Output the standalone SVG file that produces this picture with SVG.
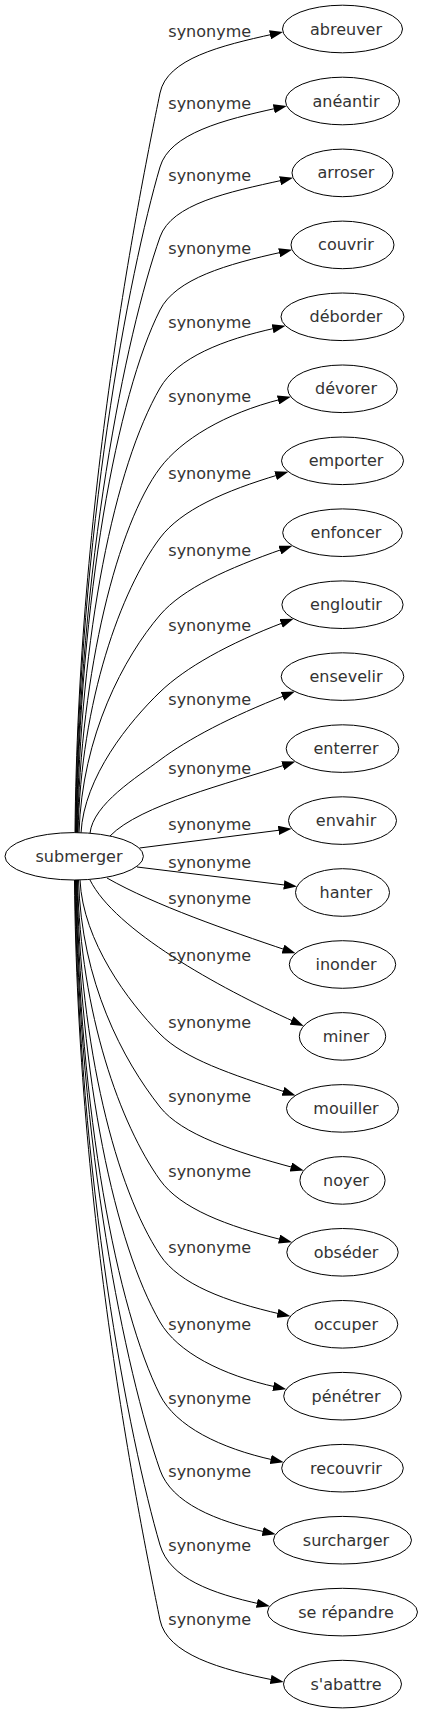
<svg xmlns="http://www.w3.org/2000/svg" width="423" height="1715" viewBox="0 0 423 1715">
<defs>
<style>
.n ellipse{fill:#fff;stroke:#000;stroke-width:1}
text{font-family:"DejaVu Sans","Liberation Sans",sans-serif;font-size:16px;fill:#333;text-anchor:middle}
.e path{fill:none;stroke:#000;stroke-width:1;marker-end:url(#ah)}
</style>
<marker id="ah" viewBox="0 0 13.3 9.3" refX="3.3" refY="4.65" markerWidth="13.3" markerHeight="9.3" markerUnits="userSpaceOnUse" orient="auto"><path d="M0,0L13.3,4.65L0,9.3z" fill="#000"/></marker>
</defs>
<rect width="423" height="1715" fill="#fff"/>
<g id="edges" class="e">
<g id="e0"><path d="M75,833 C78,500 138,200.8 160,93 C167,58.7 220.9,45.6 273.2,34.1"/><text x="209.7" y="36.8">synonyme</text></g>
<g id="e1"><path d="M75.5,833 C78.5,533.3 129.2,272.6 160,167 C169.8,133.4 223.3,119.9 277,108.1"/><text x="209.7" y="108.5">synonyme</text></g>
<g id="e2"><path d="M76,833 C79,564.8 125.3,336.1 160,237 C171.6,204 227.6,192.2 283.3,180"/><text x="209.7" y="181.2">synonyme</text></g>
<g id="e3"><path d="M76.5,833 C79.5,597.6 117.3,394.8 160,310 C175.8,278.7 226.8,264.2 282.4,252"/><text x="209.7" y="253.8">synonyme</text></g>
<g id="e4"><path d="M77,833 C80,632.7 115,465.9 160,388 C177.5,357.7 222.3,339.8 275.8,328"/><text x="209.7" y="327.8">synonyme</text></g>
<g id="e5"><path d="M77.5,833 C80.5,669 118,524 160,468 C181,440 224.4,413.4 281.2,399.2"/><text x="209.7" y="401.8">synonyme</text></g>
<g id="e6"><path d="M78,833 C81,700.3 121,590 160,538 C181,510 224.7,490.9 278.8,474.7"/><text x="209.7" y="478.8">synonyme</text></g>
<g id="e7"><path d="M79,833 C82,734.9 124.3,656.8 160,615 C182.8,588.4 227.7,568.4 283,549"/><text x="209.7" y="556.2">synonyme</text></g>
<g id="e8"><path d="M81,833 C84,776.6 129.8,721.1 160,692 C185.2,667.7 228.3,643.5 284.2,622.3"/><text x="209.7" y="630.5">synonyme</text></g>
<g id="e9"><path d="M90,833.3 C93,804 137.6,776.8 160,760 C188,739 230.3,716.8 285.6,695.2"/><text x="209.7" y="704.5">synonyme</text></g>
<g id="e10"><path d="M110,836 C140,805 228.8,783.5 285.8,764.7"/><text x="209.7" y="773.5">synonyme</text></g>
<g id="e11"><path d="M139.5,848 C186.9,842 234.3,835.9 281.7,829.9"/><text x="209.7" y="829.5">synonyme</text></g>
<g id="e12"><path d="M137,867 C187,873.1 237,879.2 287.1,885.3"/><text x="209.7" y="867.8">synonyme</text></g>
<g id="e13"><path d="M107,878 C154.7,905.3 229.3,930.8 286.1,950.1"/><text x="209.7" y="903.8">synonyme</text></g>
<g id="e14"><path d="M90,880 C115,930 217.1,986.9 294.6,1021.8"/><text x="209.7" y="960.5">synonyme</text></g>
<g id="e15"><path d="M80,880 C83,941.6 128.5,1001.9 160,1034 C184.5,1059 230.7,1074 286.1,1092.3"/><text x="209.7" y="1027.8">synonyme</text></g>
<g id="e16"><path d="M78.5,880 C81.5,982.2 122.8,1059.9 160,1107 C181.7,1134.5 234.4,1151.7 294.1,1167.8"/><text x="209.7" y="1102.2">synonyme</text></g>
<g id="e17"><path d="M77.5,880 C80.5,1015 120.6,1124.6 160,1180 C180.3,1208.5 226.8,1226 282.3,1239.9"/><text x="209.7" y="1176.8">synonyme</text></g>
<g id="e18"><path d="M77,880 C80,1048.8 116,1188.2 160,1255 C179.3,1284.2 225.7,1301.5 280.7,1314.1"/><text x="209.7" y="1252.8">synonyme</text></g>
<g id="e19"><path d="M76.5,880 C79.5,1078.9 115,1244.1 160,1322 C177.5,1352.3 221.8,1375.1 276.5,1387.1"/><text x="209.7" y="1329.5">synonyme</text></g>
<g id="e20"><path d="M76,880 C79,1111.8 117.3,1310.2 160,1395 C175.8,1426.3 220.1,1448.3 273.9,1460.1"/><text x="209.7" y="1403.8">synonyme</text></g>
<g id="e21"><path d="M75.5,880 C78.5,1145.5 125.4,1370.9 160,1470 C171.6,1503 215.5,1521 265.9,1532.1"/><text x="209.7" y="1477.2">synonyme</text></g>
<g id="e22"><path d="M75,880 C78,1179.3 129.2,1439.4 160,1545 C169.8,1578.6 212.4,1593.5 260.1,1604"/><text x="209.7" y="1550.5">synonyme</text></g>
<g id="e23"><path d="M74.5,880 C77.5,1213 138,1512.2 160,1620 C167,1654.3 220.9,1669.5 273.9,1680.1"/><text x="209.7" y="1624.5">synonyme</text></g>
</g>
<g id="node-submerger" class="n"><ellipse cx="74.2" cy="856.3" rx="69.2" ry="23.7"/><text x="79" y="861.8">submerger</text></g>
<g id="node-abreuver" class="n"><ellipse cx="342.5" cy="29" rx="60" ry="23.8"/><text x="346" y="34.5">abreuver</text></g>
<g id="node-aneantir" class="n"><ellipse cx="342.5" cy="101" rx="57" ry="23.8"/><text x="346" y="106.5">anéantir</text></g>
<g id="node-arroser" class="n"><ellipse cx="342.5" cy="172.9" rx="50.5" ry="23.8"/><text x="346" y="178.4">arroser</text></g>
<g id="node-couvrir" class="n"><ellipse cx="342.5" cy="244.9" rx="51.5" ry="23.8"/><text x="346" y="250.4">couvrir</text></g>
<g id="node-deborder" class="n"><ellipse cx="342.5" cy="316.8" rx="61.5" ry="23.8"/><text x="346" y="322.3">déborder</text></g>
<g id="node-devorer" class="n"><ellipse cx="342.5" cy="388.8" rx="54.8" ry="23.8"/><text x="346" y="394.3">dévorer</text></g>
<g id="node-emporter" class="n"><ellipse cx="342.5" cy="460.8" rx="61" ry="23.8"/><text x="346" y="466.3">emporter</text></g>
<g id="node-enfoncer" class="n"><ellipse cx="342.5" cy="532.7" rx="59.8" ry="23.8"/><text x="346" y="538.2">enfoncer</text></g>
<g id="node-engloutir" class="n"><ellipse cx="342.5" cy="604.7" rx="60.6" ry="23.8"/><text x="346" y="610.2">engloutir</text></g>
<g id="node-ensevelir" class="n"><ellipse cx="342.5" cy="676.6" rx="61.3" ry="23.8"/><text x="346" y="682.1">ensevelir</text></g>
<g id="node-enterrer" class="n"><ellipse cx="342.5" cy="748.6" rx="56.3" ry="23.8"/><text x="346" y="754.1">enterrer</text></g>
<g id="node-envahir" class="n"><ellipse cx="342.5" cy="820.6" rx="54" ry="23.8"/><text x="346" y="826.1">envahir</text></g>
<g id="node-hanter" class="n"><ellipse cx="342.5" cy="892.5" rx="47" ry="23.8"/><text x="346" y="898">hanter</text></g>
<g id="node-inonder" class="n"><ellipse cx="342.5" cy="964.5" rx="53.2" ry="23.8"/><text x="346" y="970">inonder</text></g>
<g id="node-miner" class="n"><ellipse cx="342.5" cy="1036.4" rx="43.2" ry="23.8"/><text x="346" y="1041.9">miner</text></g>
<g id="node-mouiller" class="n"><ellipse cx="342.5" cy="1108.4" rx="56" ry="23.8"/><text x="346" y="1113.9">mouiller</text></g>
<g id="node-noyer" class="n"><ellipse cx="342.5" cy="1180.4" rx="42.6" ry="23.8"/><text x="346" y="1185.9">noyer</text></g>
<g id="node-obseder" class="n"><ellipse cx="342.5" cy="1252.3" rx="55.7" ry="23.8"/><text x="346" y="1257.8">obséder</text></g>
<g id="node-occuper" class="n"><ellipse cx="342.5" cy="1324.3" rx="55.3" ry="23.8"/><text x="346" y="1329.8">occuper</text></g>
<g id="node-penetrer" class="n"><ellipse cx="342.5" cy="1396.2" rx="58.8" ry="23.8"/><text x="346" y="1401.7">pénétrer</text></g>
<g id="node-recouvrir" class="n"><ellipse cx="342.5" cy="1468.2" rx="60.8" ry="23.8"/><text x="346" y="1473.7">recouvrir</text></g>
<g id="node-surcharger" class="n"><ellipse cx="342.5" cy="1540.2" rx="69" ry="23.8"/><text x="346" y="1545.7">surcharger</text></g>
<g id="node-se-repandre" class="n"><ellipse cx="342.5" cy="1612.1" rx="75" ry="23.8"/><text x="346" y="1617.6">se répandre</text></g>
<g id="node-s-abattre" class="n"><ellipse cx="342.5" cy="1684.1" rx="59" ry="23.8"/><text x="346" y="1689.6">s'abattre</text></g>
</svg>
